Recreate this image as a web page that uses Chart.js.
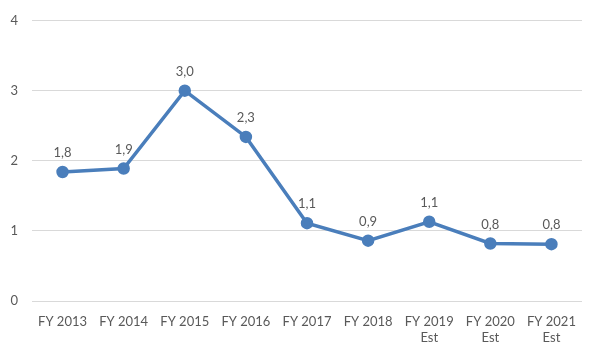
<!DOCTYPE html>
<html>
<head>
<meta charset="utf-8">
<script src="https://cdn.jsdelivr.net/npm/chart.js@4"></script>
<style>
  html, body { margin: 0; padding: 0; background: #fff; }
  #wrap { width: 600px; height: 358px; }
</style>
</head>
<body>
<div id="wrap"><canvas id="lineChart"></canvas></div>
<script>
// data
const categories = [
  "FY 2013", "FY 2014", "FY 2015", "FY 2016", "FY 2017", "FY 2018",
  ["FY 2019", "Est"], ["FY 2020", "Est"], ["FY 2021", "Est"]
];
const values = [1.84, 1.89, 3.0, 2.34, 1.11, 0.86, 1.13, 0.82, 0.81];
const yTicks = [0, 1, 2, 3, 4];

const FONT = "Lato, 'Open Sans', sans-serif";
const GREY = "#595959";

/* simple value labels above each point */
const pointLabels = {
  id: "pointLabels",
  afterDatasetsDraw(chart) {
    const ctx = chart.ctx;
    const meta = chart.getDatasetMeta(0);
    ctx.save();
    ctx.font = "13px " + FONT;
    ctx.fillStyle = GREY;
    ctx.textAlign = "center";
    ctx.textBaseline = "middle";
    meta.data.forEach((pt, i) => {
      const txt = values[i].toFixed(1).replace(".", ",");
      ctx.fillText(txt, pt.x, pt.y - 19);
    });
    ctx.restore();
  }
};

new Chart(document.getElementById("lineChart"), {
  type: "line",
  data: {
    labels: categories,
    datasets: [{
      data: values,
      borderColor: "#4a7ebb",
      backgroundColor: "#4a7ebb",
      borderWidth: 3.5,
      pointRadius: 4.5,
      pointHoverRadius: 4.5,
      tension: 0
    }]
  },
  options: {
    responsive: true,
    maintainAspectRatio: false,
    animation: false,
    layout: { padding: { top: 10, right: 18, left: 0, bottom: 0 } },
    plugins: {
      legend: { display: false },
      tooltip: { enabled: false }
    },
    scales: {
      x: {
        offset: true,
        grid: { display: false, drawTicks: false },
        border: { display: false },
        ticks: {
          color: GREY,
          font: { family: FONT, size: 13 },
          padding: 13,
          maxRotation: 0,
          autoSkip: false
        },
        afterFit(scale) { scale.height = 57; }
      },
      y: {
        min: 0,
        max: 4,
        afterBuildTicks(scale) { scale.ticks = yTicks.map(v => ({ value: v })); },
        grid: { color: "#d9d9d9", lineWidth: 1, drawTicks: false },
        border: { display: false },
        ticks: {
          color: GREY,
          font: { family: FONT, size: 13, lineHeight: 1 },
          padding: 14
        },
        afterFit(scale) { scale.width = 32; }
      }
    }
  },
  plugins: [pointLabels]
});
</script>
</body>
</html>
